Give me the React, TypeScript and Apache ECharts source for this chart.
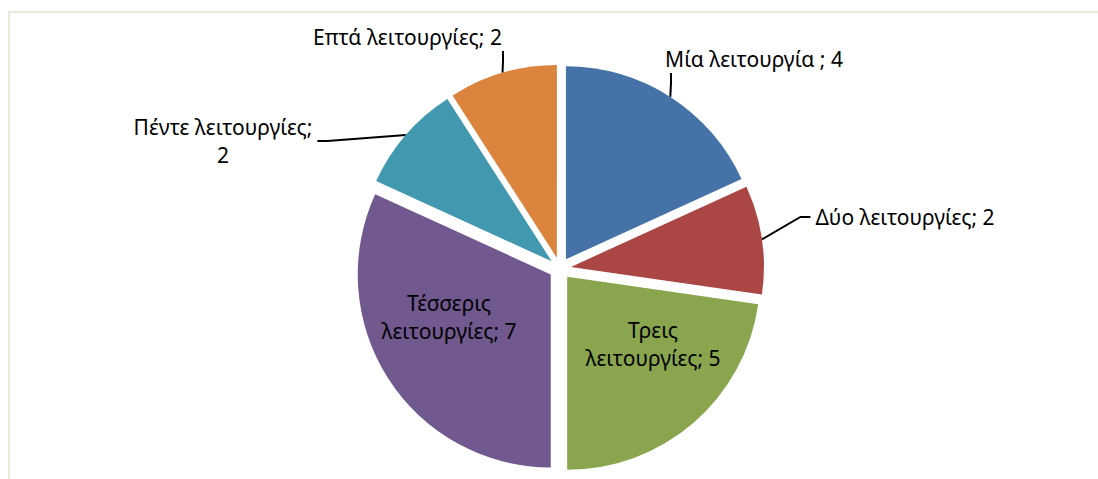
import React, { useEffect, useRef } from "react";
import * as echarts from "echarts";

const categories = [
  "Μία λειτουργία ",
  "Δύο λειτουργίες",
  "Τρεις λειτουργίες",
  "Τέσσερις λειτουργίες",
  "Πέντε λειτουργίες",
  "Επτά λειτουργίες",
];
const values = [4, 2, 5, 7, 2, 2];
const colors = ["#4572A7", "#AA4643", "#89A54E", "#71588F", "#4198AF", "#DB843D"];
const labelFormats = [
  "{b}; {c}",
  "{b}; {c}",
  "Τρεις\nλειτουργίες; {c}",
  "Τέσσερις\nλειτουργίες; {c}",
  "{b};\n{c}",
  "{b}; {c}",
];
const insideLabel = [false, false, true, true, false, false];
// label box centres and paddings (layout only)
const labelPos: number[][] = [
  [671, 59],
  [905, 217],
  [653, 344],
  [449, 317],
  [223, 141],
  [503, 37],
];
const labelPad: number[][] = [
  [0, 0, 0, 166],
  [0, 5, 0, 5],
  [0, 0, 0, 0],
  [0, 0, 0, 0],
  [0, 5, 0, 5],
  [0, 191, 0, 0],
];

const CX = 560;
const CY = 268.5;
const R = 193;
const EXPLODE = 11;

export default function App() {
  const ref = useRef<HTMLDivElement>(null);
  useEffect(() => {
    if (!ref.current) return;
    const chart = echarts.init(ref.current, null, { renderer: "svg" });
    const font = "'Noto Sans', sans-serif";
    const total = values.reduce((a, b) => a + b, 0);
    let cum = 0;
    const series = values.map((v, k) => {
      const mid = ((cum + v / 2) / total) * Math.PI * 2;
      cum += v;
      const cx = CX + EXPLODE * Math.sin(mid);
      const cy = CY - EXPLODE * Math.cos(mid);
      return {
        type: "pie",
        center: [cx, cy],
        radius: R,
        startAngle: 90,
        clockwise: true,
        avoidLabelOverlap: false,
        emphasis: { disabled: true },
        silent: true,
        itemStyle: { borderWidth: 0 },
        label: {
          color: "#000",
          fontFamily: font,
          fontSize: 21,
          lineHeight: 28,
          align: "center",
        },
        labelLine: {
          length: 15,
          length2: 10,
          lineStyle: { color: "#000", width: 2 },
        },
        labelLayout: (params: any) => {
          const p = labelPos[params.dataIndex];
          return { x: p[0], y: p[1], align: "center", verticalAlign: "middle" };
        },
        data: categories.map((name, i) => ({
          name,
          value: values[i],
          itemStyle: { color: i === k ? colors[i] : "transparent" },
          label: {
            show: i === k,
            formatter: labelFormats[i],
            position: insideLabel[i] ? "inside" : "outside",
            padding: labelPad[i],
          },
          labelLine: { show: i === k && !insideLabel[i] },
        })),
      };
    });
    chart.setOption({
      animation: false,
      backgroundColor: "#ffffff",
      graphic: [
        {
          type: "rect",
          shape: { x: 9, y: 12, width: 1100, height: 480 },
          style: { fill: "none", stroke: "#ebe8dc", lineWidth: 2 },
          silent: true,
        },
      ],
      series,
    });
    return () => chart.dispose();
  }, []);
  return (
    <div
      ref={ref}
      style={{ position: "absolute", left: 0, top: 0, width: 1098, height: 479 }}
    />
  );
}
